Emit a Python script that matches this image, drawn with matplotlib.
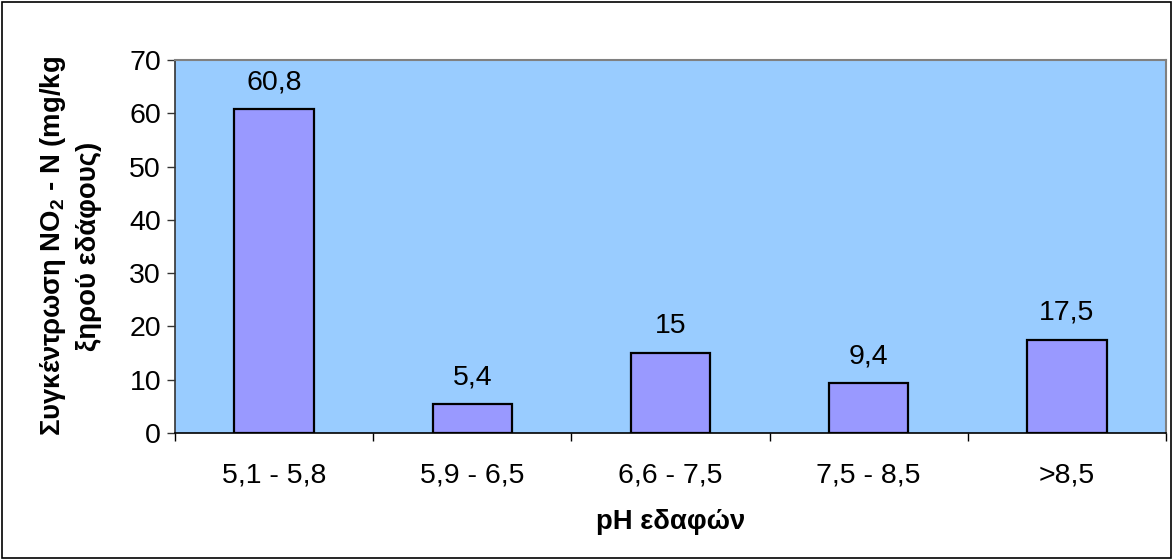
import matplotlib
matplotlib.use("Agg")
import matplotlib.pyplot as plt
import numpy as np

categories = ["5,1 - 5,8", "5,9 - 6,5", "6,6 - 7,5", "7,5 - 8,5", ">8,5"]
values = [60.8, 5.4, 15, 9.4, 17.5]
value_labels = ["60,8", "5,4", "15", "9,4", "17,5"]
yticks = [0, 10, 20, 30, 40, 50, 60, 70]

plt.rcParams['font.family'] = ['Liberation Sans', 'DejaVu Sans']
plt.rcParams['mathtext.fontset'] = 'custom'
plt.rcParams['mathtext.rm'] = 'Liberation Sans:bold'
plt.rcParams['mathtext.it'] = 'Liberation Sans:bold'
plt.rcParams['mathtext.bf'] = 'Liberation Sans:bold'

fig = plt.figure(figsize=(11.73, 5.6), dpi=100)
fig.patches.append(plt.Rectangle((0.002, 0.003), 0.996, 0.994, transform=fig.transFigure,
                                 fill=False, edgecolor='black', linewidth=1.2))
ax = fig.add_axes([175/1173, (560-433)/560, 991/1173, 373/560])
ax.set_facecolor('#99CCFF')

x = np.arange(len(categories))
bars = ax.bar(x, values, width=0.4, color='#9999FF', edgecolor='black', linewidth=1.6, zorder=3)
for xi, v, lab in zip(x, values, value_labels):
    ax.annotate(lab, (xi, v), xytext=(0, 10), textcoords='offset points',
                ha='center', va='bottom', fontsize=20.5)

ax.set_xlim(-0.5, len(categories) - 0.5)
ax.set_ylim(0, 70)
ax.set_yticks(yticks)
ax.set_yticklabels([str(t) for t in yticks], fontsize=20.5)
ax.tick_params(axis='y', direction='out', length=6, width=1, color='#333333', pad=4)

ax.set_xticks(np.arange(-0.5, len(categories), 1.0))
ax.set_xticklabels([])
ax.tick_params(axis='x', which='major', direction='out', length=6, width=1, color='black')
ax.set_xticks(x, minor=True)
ax.set_xticklabels(categories, minor=True, fontsize=20.5)
ax.tick_params(axis='x', which='minor', length=0, pad=21)

for s in ['top', 'right']:
    ax.spines[s].set_color('#808080')
    ax.spines[s].set_linewidth(1.5)
ax.spines['left'].set_color('#333333')
ax.spines['bottom'].set_color('black')
ax.spines['left'].set_linewidth(1.2)
ax.spines['bottom'].set_linewidth(1.2)

ax.set_xlabel('pH εδαφών', fontsize=19.8, fontweight='bold', labelpad=15)
ax.set_ylabel('Συγκέντρωση NO$_2$ - N (mg/kg\nξηρού εδάφους)', fontsize=19.8,
              fontweight='bold', labelpad=20, linespacing=1.4)

fig.savefig('out.png', dpi=100)
